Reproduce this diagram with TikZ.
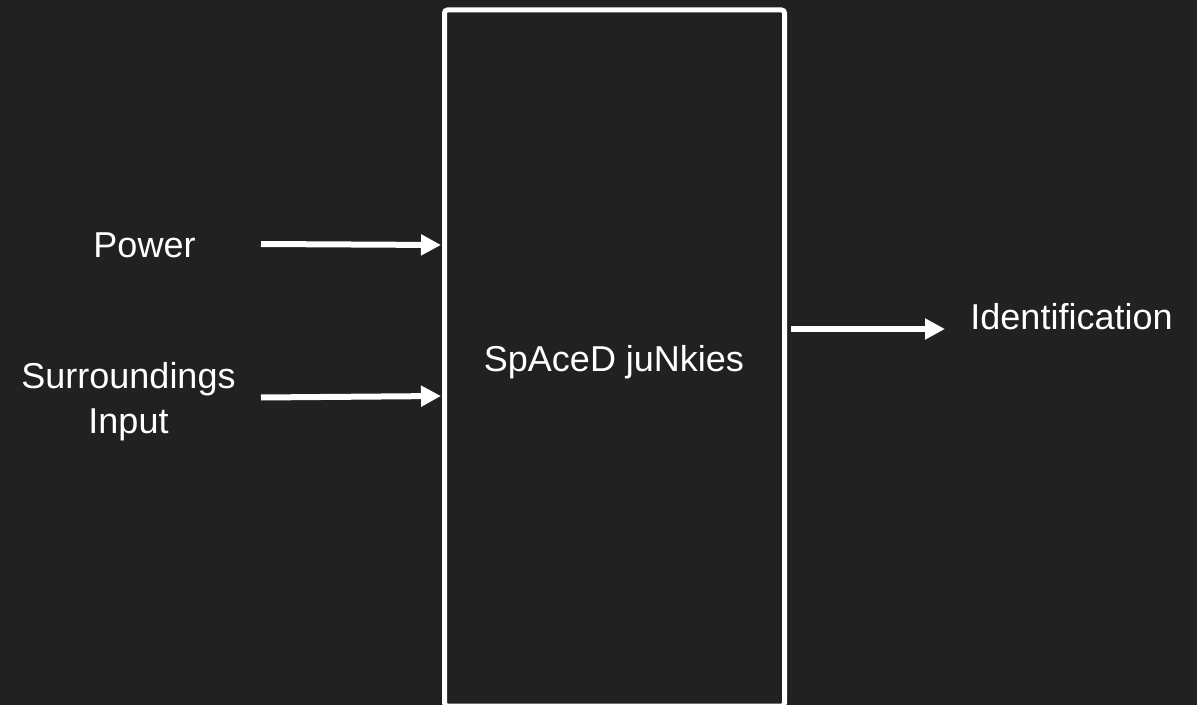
\documentclass[tikz,border=0pt]{standalone}
\usepackage{fontspec}
\setmainfont{Liberation Sans}
\usetikzlibrary{arrows.meta}
\definecolor{bg}{HTML}{212121}
\begin{document}
\begin{tikzpicture}[x=0.5pt,y=-0.5pt,
  lbl/.style={text=white,inner sep=0pt,anchor=base,font=\fontsize{18}{22.5}\selectfont,align=center},
  flow/.style={draw=white,line width=3pt,-{Triangle[length=10pt,width=10pt]}},
  mainbox/.style={draw=white,line width=2.5pt,fill=bg,rounded corners=1.5pt}]
\fill[bg] (0,0) rectangle (1197,705);
\useasboundingbox (0,0) rectangle (1197,705);
\draw[mainbox] (444.5,10) rectangle (784.5,706);
\node[lbl] (power) at (144.5,258) {Power};
\node[lbl] (surr) at (128.5,433) {Surroundings\\Input};
\node[lbl] (main) at (614,371) {SpAceD juNkies};
\node[lbl] (ident) at (1071.5,329) {Identification};
\coordinate (p0) at (261,244);
\coordinate (p1) at (441,245);
\coordinate (s0) at (261,397.5);
\coordinate (s1) at (441,396);
\coordinate (i0) at (791,329);
\coordinate (i1) at (945,329);
\draw[flow] (p0) -- (p1);
\draw[flow] (s0) -- (s1);
\draw[flow] (i0) -- (i1);
\end{tikzpicture}
\end{document}
